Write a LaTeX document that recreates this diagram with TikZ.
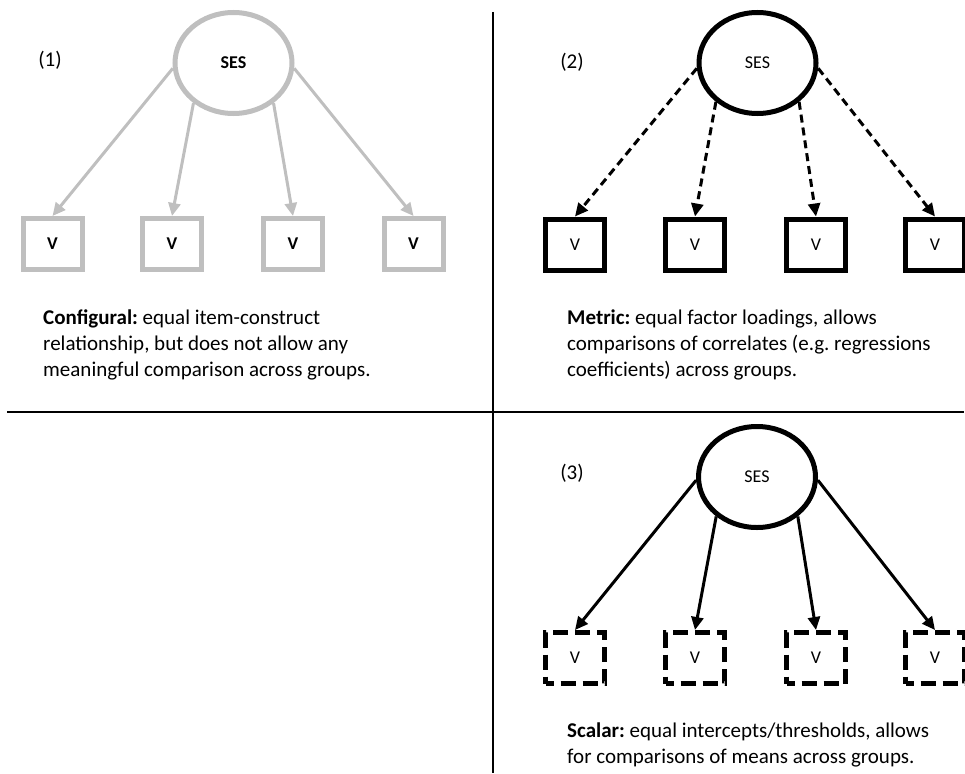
\documentclass[tikz,border=0pt]{standalone}
\usepackage{fontspec}
\setmainfont{Carlito}
\usepackage{tikz}
\usepackage{xcolor}
\usetikzlibrary{shapes.geometric}
\usetikzlibrary{arrows.meta}
\definecolor{lightline}{RGB}{191,191,191}
\frenchspacing

\begin{document}
\begin{tikzpicture}[x=1pt, y=-1pt,
		latent/.style={ellipse, draw, minimum width=117pt, minimum height=101pt, line width=5pt, inner sep=0pt, font=\fontsize{18}{20}\selectfont},
		item/.style={rectangle, draw, minimum width=59pt, minimum height=51pt, line width=5pt, inner sep=0pt, font=\fontsize{18}{20}\selectfont},
		loading/.style={-{Triangle[length=13pt, width=12pt]}, line width=3pt},
		caption/.style={anchor=north west, align=left, inner sep=0pt, font=\fontsize{21}{26}\selectfont},
		tag/.style={inner sep=0pt, font=\fontsize{21}{26}\selectfont}]
	\useasboundingbox (0,0) rectangle (965,773);
	% quadrant lines
	\draw[line width=2pt] (493,12) -- (493,773);
	\draw[line width=2pt] (7,412) -- (964,412);

	% (1) configural
	\node[tag] (tagA) at (50,60) {(1)};
	\node[latent, draw=lightline, font=\fontsize{18}{20}\selectfont\bfseries] (sesA) at (233.5,63) {SES};
	\foreach \x [count=\i] in {52.5,172,293,413.5}
		\node[item, draw=lightline, font=\fontsize{18}{20}\selectfont\bfseries] (a\i) at (\x,244) {V};
	\foreach \ang [count=\i] in {185,225,315,355}
		\draw[loading, lightline] (sesA.\ang) -- (a\i.north);
	\node[caption] (capA) at (43,310) {\textbf{Configural:} equal item-construct\\relationship, but does not allow any\\meaningful comparison across groups.};

	% (2) metric
	\node[tag] (tagB) at (572,62) {(2)};
	\node[latent] (sesB) at (757.5,63) {SES};
	\foreach \x [count=\i] in {575,695,816,935}
		\node[item] (b\i) at (\x,244.5) {V};
	\foreach \ang [count=\i] in {185,223,317,355}
		\draw[loading, dash pattern=on 8pt off 5pt] (sesB.\ang) -- (b\i.north);
	\node[caption] (capB) at (567,310) {\textbf{Metric:} equal factor loadings, allows\\comparisons of correlates (e.g. regressions\\coefficients) across groups.};

	% (3) scalar
	\node[tag] (tagC) at (572,473) {(3)};
	\node[latent] (sesC) at (757,477) {SES};
	\foreach \x [count=\i] in {575,695,816,935}
		\node[item, dash pattern=on 15pt off 7pt, dash phase=7pt] (c\i) at (\x,658) {V};
	\foreach \ang [count=\i] in {183,224,316,357}
		\draw[loading] (sesC.\ang) -- (c\i.north);
	\node[caption] (capC) at (567,723) {\textbf{Scalar:} equal intercepts/thresholds, allows\\for comparisons of means across groups.};
\end{tikzpicture}
\end{document}
